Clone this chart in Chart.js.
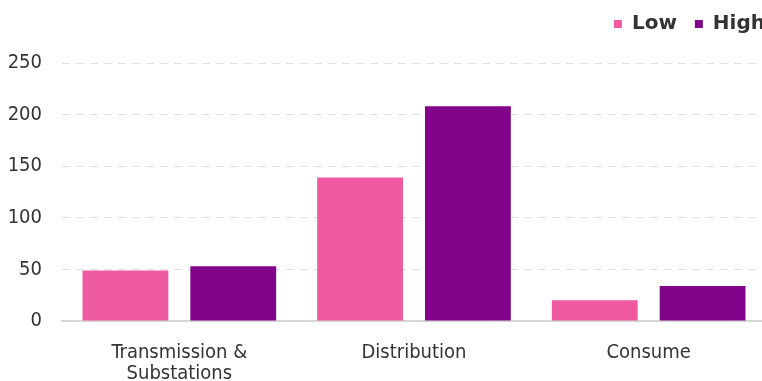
<!DOCTYPE html>
<html>
<head>
<meta charset="utf-8">
<script src="https://cdn.jsdelivr.net/npm/chart.js@4/dist/chart.umd.min.js"></script>
<style>
  html, body { margin: 0; padding: 0; background: #fff; overflow: hidden; }
  #wrap { width: 767px; height: 392px; position: relative; }
</style>
</head>
<body>
<div id="wrap"><canvas id="grafico"></canvas></div>
<script>
const categorias = [['Transmission &', 'Substations'], 'Distribution', 'Consume'];
const valoresLow = [49, 139, 20];
const valoresHigh = [53, 208, 34];
const ticksY = [0, 50, 100, 150, 200, 250];

const fonte = 'DejaVu Sans Condensed';

// espaço extra abaixo da legenda e legenda encostada na borda direita
const ajusteLegenda = {
    id: 'ajusteLegenda',
    beforeInit(chart) {
        const fitOriginal = chart.legend.fit;
        chart.legend.fit = function() {
            fitOriginal.bind(chart.legend)();
            this.height += 13;
        };
    },
    afterLayout(chart) {
        chart.legend.left += 17;
        chart.legend.right += 17;
        chart.legend.top -= 6;
        chart.legend.bottom -= 6;
    }
};

const ctx = document.getElementById('grafico').getContext('2d');
new Chart(ctx, {
    type: 'bar',
    data: {
        labels: categorias,
        datasets: [
            { label: 'Low', data: valoresLow, backgroundColor: '#ee5a9f' },
            { label: 'High', data: valoresHigh, backgroundColor: '#81038a' }
        ]
    },
    plugins: [ajusteLegenda],
    options: {
        responsive: true,
        maintainAspectRatio: false,
        animation: false,
        layout: { autoPadding: false, padding: { top: 2, right: 1, left: 8, bottom: 0 } },
        datasets: {
            bar: { categoryPercentage: 0.919, barPercentage: 0.796 }
        },
        plugins: {
            legend: {
                position: 'top',
                align: 'end',
                labels: {
                    boxWidth: 8,
                    boxHeight: 8,
                    padding: 18,
                    color: '#333',
                    font: { family: 'DejaVu Sans', size: 20, weight: 'bold' }
                }
            },
            tooltip: { enabled: false }
        },
        scales: {
            y: {
                min: 0,
                max: 250,
                afterBuildTicks: function(axis) {
                    axis.ticks = ticksY.map(v => ({ value: v }));
                },
                afterFit: function(axis) {
                    axis.width = 54;
                },
                border: { display: false, dash: [8, 6] },
                grid: {
                    color: c => c.tick && c.tick.value === 0 ? 'rgba(0,0,0,0)' : '#e0e0e0',
                    lineWidth: 1,
                    drawTicks: false
                },
                ticks: {
                    padding: 20,
                    color: '#333',
                    font: { family: fonte, size: 20 }
                }
            },
            x: {
                afterFit: function(axis) {
                    axis.height = 71;
                },
                border: { color: '#d6d6d6', width: 2 },
                grid: { display: false },
                ticks: {
                    padding: 13,
                    color: '#333',
                    font: { family: fonte, size: 20, lineHeight: 1.05 }
                }
            }
        }
    }
});
</script>
</body>
</html>
